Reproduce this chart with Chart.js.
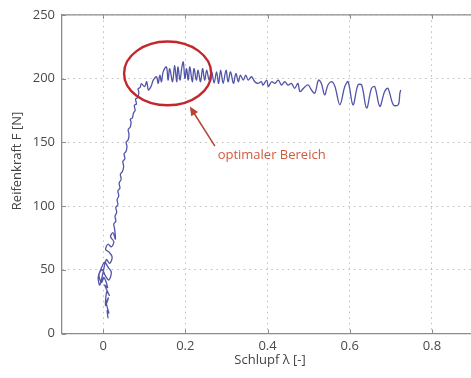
<!DOCTYPE html>
<html><head><meta charset="utf-8">
<script src="https://cdn.jsdelivr.net/npm/chart.js@4"></script>
<style>html,body{margin:0;padding:0;background:#fff}</style>
</head><body>
<canvas id="c" width="471" height="378"></canvas>
<script>
const slip = [
 0.012,0.010,0.014,0.008,0.013,0.006,0.009,0.015,0.004,0.011,0.002,-0.004,-0.010,-0.002,0.006,0.014,0.020,0.012,0.004,-0.006,-0.012,-0.008,0.000,0.008,0.016,0.022,0.014,0.006,0.012,0.020,0.026,0.018,0.024,0.030,0.028,
 0.026,0.031,0.029,0.033,0.031,0.036,0.034,0.038,0.036,0.041,0.039,0.044,0.042,0.047,0.050,0.048,0.053,0.051,0.056,0.058,0.056,0.061,0.063,0.061,0.066,0.068,0.066,0.071,0.074,0.078,0.076,0.081,0.079,0.084,0.087,0.085,0.090,0.093,
 0.101,0.106,0.110,0.114,0.118,0.122,0.130,0.134,0.138,0.142,0.146,0.154,0.158,0.162,0.169,0.174,0.179,0.182,0.187,0.191,0.195,0.199,0.203,0.207,0.211,0.217,0.221,0.227,0.231,0.237,0.242,0.247,0.252,0.258,0.264,0.270,
 0.276,0.281,0.286,0.292,0.299,0.304,0.310,0.317,0.323,0.329,0.334,0.341,0.347,0.353,0.361,0.369,0.377,0.385,0.389,0.398,0.402,0.410,0.418,0.426,0.434,0.442,0.450,0.458,0.466,0.474,
 0.479,0.491,0.499,0.507,0.515,0.524,0.531,0.539,0.547,0.556,0.564,0.576,0.588,0.596,0.608,0.620,0.629,0.641,0.653,0.661,0.673,0.685,0.693,0.706,0.718,0.722,0.724
];
const force = [
 12,18,16,24,28,22,33,30,38,36,44,40,46,50,45,42,48,52,56,50,44,38,48,58,55,60,64,66,70,68,72,76,79,74,82,
 86,88,92,95,99,101,105,108,112,114,118,121,125,127,131,135,137,141,143,147,150,152,156,160,162,166,168,169,173,175,179,180,184,185,189,192,193,196,
 193.7,197.5,191,192.3,194.9,198.8,201.4,196.2,202.6,197.5,205.2,209.1,198.8,207.8,197.5,210.4,197.5,209.1,198.8,207.8,213,200.1,207.8,198.8,209.1,197.5,207.8,198.8,206.5,197.5,207.8,198.8,206.5,198.8,205.2,196.5,
 205.2,196.2,206.5,196.2,206.5,197.5,205.2,196.2,203.9,197.5,202.6,198.8,202.6,198.8,201.4,197.5,196.2,197.5,194.9,198.8,193.7,197.5,196.2,198.8,194.9,197.5,194.9,196.2,192.3,196.2,
 189.8,193.6,194.9,191,188.5,198.8,196.2,187.2,194.9,197.5,193.7,179.4,193.7,197.5,179.4,194.9,194.9,176.9,192.3,193.6,178.2,189.8,192.3,179.4,179.4,188.5,191
];
const xTicks = [0, 0.2, 0.4, 0.6, 0.8];
const yTicks = [0, 50, 100, 150, 200, 250];
const xTitle = 'Schlupf λ [-]';
const yTitle = 'Reifenkraft F [N]';
const noteText = 'optimaler Bereich';

const FONT = '"Open Sans", "Noto Sans", sans-serif';
const AX = '#8c8c8c';

const decor = {
  id: 'decor',
  afterDraw(chart) {
    const {ctx, chartArea: a, scales: {x, y}} = chart;
    ctx.save();
    ctx.strokeStyle = AX; ctx.lineWidth = 1.3;
    ctx.beginPath(); ctx.moveTo(a.left, a.top); ctx.lineTo(a.right + 2, a.top); ctx.stroke();
    ctx.lineWidth = 1;
    xTicks.forEach(v => {
      const px = Math.round(x.getPixelForValue(v)) + 0.5;
      ctx.beginPath();
      ctx.moveTo(px, a.top); ctx.lineTo(px, a.top + 4);
      ctx.moveTo(px, a.bottom); ctx.lineTo(px, a.bottom - 4);
      ctx.stroke();
    });
    yTicks.forEach(v => {
      const py = Math.round(y.getPixelForValue(v)) + 0.5;
      ctx.beginPath(); ctx.moveTo(a.left, py); ctx.lineTo(a.left + 4, py); ctx.stroke();
    });
    // axis titles
    ctx.fillStyle = '#444'; ctx.font = '13px ' + FONT;
    ctx.textAlign = 'center'; ctx.textBaseline = 'middle';
    ctx.fillText(xTitle, 270, 360);
    ctx.save(); ctx.translate(17, 161); ctx.rotate(-Math.PI / 2); ctx.fillText(yTitle, 0, 0); ctx.restore();

    // ellipse marking the optimal range
    const cx = x.getPixelForValue(0.157), cy = y.getPixelForValue(204);
    const rx = x.getPixelForValue(0.157 + 0.106) - cx;
    const ry = cy - y.getPixelForValue(204 + 25);
    ctx.strokeStyle = '#c4262e'; ctx.lineWidth = 2.4;
    ctx.beginPath(); ctx.ellipse(cx, cy, rx, ry, 0, 0, Math.PI * 2); ctx.stroke();

    // arrow
    const tx = x.getPixelForValue(0.272), ty = y.getPixelForValue(147);
    const hx = x.getPixelForValue(0.211), hy = y.getPixelForValue(178);
    const ang = Math.atan2(hy - ty, hx - tx);
    ctx.strokeStyle = '#b8432f'; ctx.fillStyle = '#b8432f'; ctx.lineWidth = 1.5;
    ctx.beginPath(); ctx.moveTo(tx, ty);
    ctx.lineTo(hx - 7 * Math.cos(ang), hy - 7 * Math.sin(ang)); ctx.stroke();
    ctx.beginPath();
    ctx.moveTo(hx, hy);
    ctx.lineTo(hx - 9 * Math.cos(ang) + 4 * Math.sin(ang), hy - 9 * Math.sin(ang) - 4 * Math.cos(ang));
    ctx.lineTo(hx - 9 * Math.cos(ang) - 4 * Math.sin(ang), hy - 9 * Math.sin(ang) + 4 * Math.cos(ang));
    ctx.closePath(); ctx.fill();

    // label
    ctx.fillStyle = '#d25a3c'; ctx.font = '13px ' + FONT;
    ctx.textAlign = 'center'; ctx.textBaseline = 'middle';
    ctx.fillText(noteText, x.getPixelForValue(0.41), y.getPixelForValue(140));
    ctx.restore();
  }
};

new Chart(document.getElementById('c'), {
  type: 'scatter',
  data: {
    datasets: [{
      data: slip.map((s, i) => ({x: s, y: force[i]})),
      showLine: true,
      borderColor: '#5254a8',
      borderWidth: 1.3,
      pointRadius: 0,
      tension: 0.35
    }]
  },
  options: {
    responsive: false,
    devicePixelRatio: 1,
    animation: false,
    events: [],
    layout: {padding: {top: 10.5, left: 0, right: 0, bottom: 0}},
    plugins: {legend: {display: false}, tooltip: {enabled: false}},
    scales: {
      x: {
        type: 'linear', min: -0.1, max: 0.895,
        afterBuildTicks: s => { s.ticks = xTicks.map(v => ({value: v})); },
        afterFit: s => { s.height = 44.5; },
        grid: {color: '#bdbdbd', lineWidth: 1, drawTicks: false},
        border: {display: true, color: AX, width: 1.3, dash: [1.5, 4]},
        ticks: {padding: 5, color: '#4a4a4a', font: {family: FONT, size: 13},
          callback: v => v === 0 ? '0' : v.toFixed(1)}
      },
      y: {
        type: 'linear', min: 0, max: 250,
        afterBuildTicks: s => { s.ticks = yTicks.map(v => ({value: v})); },
        afterFit: s => { s.width = 62; },
        grid: {color: '#bdbdbd', lineWidth: 1, drawTicks: false},
        border: {display: true, color: AX, width: 1.3, dash: [1.5, 4]},
        ticks: {padding: 7, color: '#4a4a4a', font: {family: FONT, size: 13}}
      }
    }
  },
  plugins: [decor]
});
</script>
</body></html>
